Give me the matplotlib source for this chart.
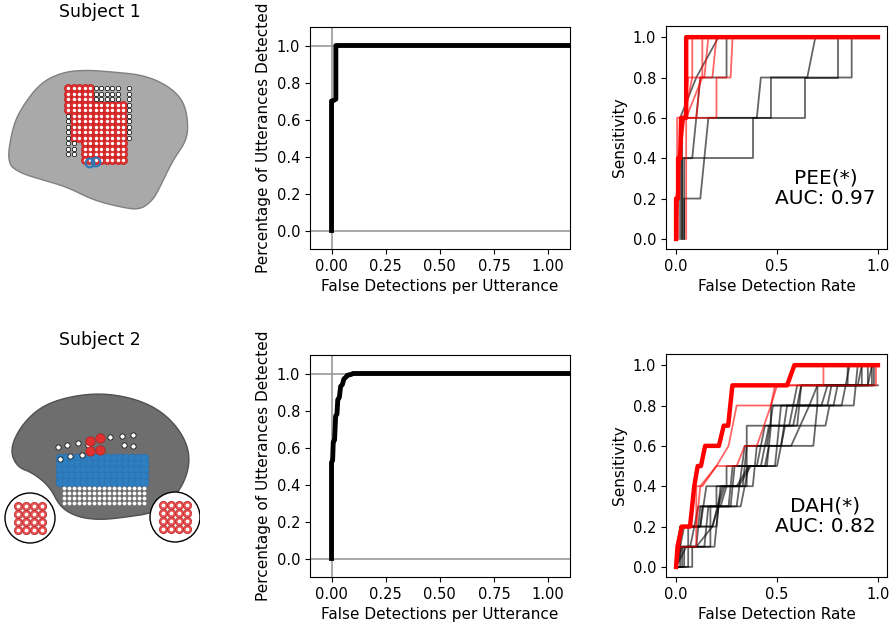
import matplotlib
matplotlib.use('Agg')
import matplotlib.pyplot as plt
import numpy as np
from matplotlib.patches import Polygon, Circle

# detection curves (false detections per utterance vs fraction detected)
det1_x = [0.0, 0.0, 0.005, 0.02, 0.02, 1.1]
det1_y = [0.0, 0.7, 0.7, 0.71, 1.0, 1.0]
det2_x = [0.0, 0.0, 0.005, 0.008, 0.014, 0.019, 0.025, 0.029, 0.036, 0.042, 0.05, 0.057, 0.066, 0.073, 0.09, 0.10, 1.1]
det2_y = [0.0, 0.52, 0.53, 0.63, 0.64, 0.77, 0.78, 0.86, 0.87, 0.93, 0.94, 0.97, 0.98, 0.99, 0.995, 1.0, 1.0]

# ROC curves, subject 1 (PEE)
roc1_best = ([0, 0.0, 0.01, 0.01, 0.02, 0.025, 0.05, 0.05, 1.0],
             [0, 0.2, 0.2, 0.4, 0.4, 0.6, 0.6, 1.0, 1.0])
roc1_red = [
    ([0, 0.0, 0.02, 0.04, 0.08, 0.08, 1.0], [0, 0.2, 0.4, 0.6, 0.8, 1.0, 1.0]),
    ([0.01, 0.01, 0.04, 0.2, 0.2, 0.27, 0.28, 1.0], [0, 0.4, 0.6, 0.6, 0.8, 0.8, 1.0, 1.0]),
    ([0.0, 0.02, 0.06, 0.14, 0.16, 1.0], [0, 0.4, 0.8, 0.8, 1.0, 1.0]),
    ([0.005, 0.005, 0.1, 0.12, 0.18, 0.2, 1.0], [0, 0.6, 0.6, 0.8, 0.8, 1.0, 1.0]),
    ([0.05, 0.05, 0.13, 0.13, 1.0], [0, 0.6, 0.8, 1.0, 1.0]),
]
roc1_black = [
    ([0.03, 0.03, 0.38, 0.38, 0.64, 0.64, 0.80, 0.80, 1.0], [0, 0.4, 0.4, 0.6, 0.6, 0.8, 0.8, 1.0, 1.0]),
    ([0.04, 0.04, 0.12, 0.16, 0.47, 0.47, 0.87, 0.87, 1.0], [0, 0.2, 0.2, 0.6, 0.6, 0.8, 0.8, 1.0, 1.0]),
    ([0.03, 0.03, 0.40, 0.42, 0.65, 0.69, 1.0], [0, 0.6, 0.6, 0.8, 0.8, 1.0, 1.0]),
    ([0.02, 0.02, 0.10, 0.21, 1.0], [0, 0.6, 0.8, 1.0, 1.0]),
    ([0.04, 0.04, 0.08, 0.12, 0.25, 0.25, 1.0], [0, 0.4, 0.4, 0.8, 0.8, 1.0, 1.0]),
]

# ROC curves, subject 2 (DAH)
roc2_best = ([0, 0.007, 0.028, 0.069, 0.09, 0.107, 0.123, 0.144, 0.212, 0.236, 0.258, 0.279, 0.55, 0.586, 1.0],
             [0, 0.1, 0.2, 0.2, 0.4, 0.5, 0.5, 0.6, 0.6, 0.7, 0.7, 0.9, 0.9, 1.0, 1.0])
roc2_red = [
    ([0, 0.02, 0.10, 0.10, 0.13, 0.20, 0.30, 0.34, 0.40, 0.47, 0.50, 0.99, 0.99],
     [0, 0.1, 0.1, 0.4, 0.4, 0.5, 0.5, 0.6, 0.6, 0.8, 0.9, 0.9, 1.0]),
    ([0, 0.03, 0.10, 0.12, 0.20, 0.26, 0.28, 0.30, 0.47, 0.49, 0.73, 0.73, 1.0],
     [0, 0.2, 0.2, 0.4, 0.5, 0.6, 0.7, 0.8, 0.8, 0.9, 0.9, 1.0, 1.0]),
]
roc2_black = [
    ([0, 0.04, 0.04, 0.10, 0.12, 0.20, 0.20, 0.35, 0.35, 0.47, 0.47, 0.75, 0.77, 0.92, 0.92, 1.0],
     [0, 0, 0.1, 0.1, 0.3, 0.3, 0.4, 0.4, 0.7, 0.7, 0.8, 0.8, 0.9, 0.9, 1.0, 1.0]),
    ([0, 0.02, 0.02, 0.12, 0.15, 0.25, 0.25, 0.45, 0.47, 0.60, 0.62, 0.85, 0.85, 1.0],
     [0, 0, 0.2, 0.2, 0.4, 0.4, 0.5, 0.5, 0.7, 0.7, 0.9, 0.9, 1.0, 1.0]),
    ([0, 0.03, 0.03, 0.17, 0.17, 0.30, 0.34, 0.45, 0.48, 0.70, 0.70, 0.95, 0.97, 1.0],
     [0, 0, 0.1, 0.1, 0.3, 0.3, 0.6, 0.6, 0.8, 0.8, 0.9, 0.9, 1.0, 1.0]),
    ([0, 0.06, 0.06, 0.20, 0.22, 0.33, 0.35, 0.52, 0.55, 0.78, 0.80, 0.98, 0.98],
     [0, 0, 0.2, 0.2, 0.4, 0.4, 0.6, 0.6, 0.8, 0.8, 0.9, 0.9, 1.0]),
    ([0, 0.05, 0.10, 0.18, 0.24, 0.30, 0.36, 0.42, 0.46, 0.56, 0.60, 0.84, 0.86, 1.0],
     [0, 0.1, 0.1, 0.2, 0.4, 0.4, 0.5, 0.5, 0.7, 0.7, 0.9, 0.9, 1.0, 1.0]),
    ([0, 0.03, 0.14, 0.16, 0.26, 0.28, 0.40, 0.44, 0.58, 0.62, 0.90, 0.92, 1.0],
     [0, 0.1, 0.1, 0.3, 0.3, 0.5, 0.5, 0.7, 0.7, 0.9, 0.9, 1.0, 1.0]),
    ([0, 0.08, 0.08, 0.19, 0.21, 0.32, 0.36, 0.50, 0.54, 0.74, 0.76, 0.88, 0.90, 1.0],
     [0, 0, 0.1, 0.1, 0.3, 0.3, 0.5, 0.5, 0.7, 0.7, 0.8, 0.8, 1.0, 1.0]),
    ([0, 0.02, 0.12, 0.13, 0.22, 0.25, 0.38, 0.40, 0.57, 0.66, 0.70, 0.95, 0.95],
     [0, 0.2, 0.2, 0.3, 0.3, 0.4, 0.4, 0.6, 0.6, 0.8, 0.9, 0.9, 1.0]),
    ([0, 0.04, 0.09, 0.11, 0.27, 0.29, 0.44, 0.46, 0.68, 0.70, 0.82, 0.84, 1.0],
     [0, 0.2, 0.2, 0.3, 0.3, 0.5, 0.5, 0.6, 0.6, 0.8, 0.8, 0.9, 0.9]),
    ([0, 0.01, 0.07, 0.09, 0.18, 0.23, 0.31, 0.37, 0.49, 0.52, 0.72, 0.75, 0.97, 0.97],
     [0, 0.1, 0.1, 0.2, 0.2, 0.4, 0.4, 0.5, 0.5, 0.8, 0.8, 0.9, 0.9, 1.0]),
]

labels = ['PEE(*)\nAUC: 0.97', 'DAH(*)\nAUC: 0.82']
subjects = ['Subject 1', 'Subject 2']

# brain outlines in pixel coords (illustration only)
brain1 = [(7, 163), (12, 130), (20, 110), (40, 83), (63, 72), (87, 70), (113, 72), (143, 75),
          (167, 85), (183, 100), (188, 120), (187, 140), (173, 160), (160, 187), (153, 200),
          (140, 210), (120, 207), (93, 200), (67, 187), (43, 180), (20, 173)]
brain2 = [(10, 450), (20, 427), (40, 407), (67, 397), (100, 393), (133, 398), (160, 410),
          (180, 430), (190, 453), (187, 477), (173, 500), (153, 513), (127, 517), (100, 520),
          (77, 517), (60, 507), (50, 487), (33, 473), (17, 467)]


def smooth(pts, n=3):
    # chaikin corner cutting for a rounder outline
    p = np.array(pts, float)
    for _ in range(n):
        q = np.roll(p, -1, axis=0)
        p = np.vstack([0.75 * p + 0.25 * q, 0.25 * p + 0.75 * q]).reshape(2, -1, 2).transpose(1, 0, 2).reshape(-1, 2)
    return p


plt.rcParams['font.family'] = 'DejaVu Sans'
plt.rcParams['xtick.labelsize'] = 10.5
plt.rcParams['ytick.labelsize'] = 10.5
plt.rcParams['axes.labelsize'] = 11
fig = plt.figure(figsize=(8.93, 6.28), dpi=100)

# ---- left illustration panels
axl = fig.add_axes([0, 0, 200 / 893, 1])
axl.set_xlim(0, 200)
axl.set_ylim(628, 0)
axl.axis('off')

axl.add_patch(Polygon(smooth(brain1), closed=True, fc='#a9a9a9', ec='#808080', lw=1))
axl.add_patch(Polygon(smooth(brain2), closed=True, fc='#6e6e6e', ec='#505050', lw=1))

# subject 1 electrodes
gx, gy = np.meshgrid(np.arange(68, 130, 5.5), np.arange(88, 168, 5.5))
gx, gy = gx.ravel(), gy.ravel()
red1 = ((gx >= 68) & (gx <= 92) & (gy <= 160)) | ((gx >= 80) & (gx <= 124) & (gy >= 104) & (gy <= 164))
red1 &= ~((gx <= 73) & (gy > 112)) & ~((gx <= 80) & (gy > 140))
white1 = ~red1 & (((gx >= 95) & (gx <= 122) & (gy < 102)) | ((gx >= 126) & (gy < 140)) | ((gx <= 74) & (gy < 158)))
axl.scatter(gx[red1], gy[red1], s=34, c='#e03030', edgecolors='#c02020', lw=0.5, zorder=3)
axl.scatter(gx[red1], gy[red1], s=2, c='white', zorder=4)
axl.scatter(gx[white1], gy[white1], s=10, c='white', edgecolors='black', lw=0.5, zorder=3)
axl.scatter([90, 96], [163, 162], s=40, facecolors='none', edgecolors='#2a7ab8', lw=1.5, zorder=4)

# subject 2 electrodes
hx, hy = np.meshgrid(np.arange(60, 150, 6), np.arange(458, 486, 6))
axl.scatter(hx.ravel(), hy.ravel(), s=40, c='#2f7fc0', edgecolors='#2a70b0', lw=0.5, zorder=3)
sx, sy = np.meshgrid(np.arange(64, 146, 5), np.arange(488, 506, 5))
axl.scatter(sx.ravel(), sy.ravel(), s=3, c='white', zorder=3)
tx = np.array([58, 67, 78, 88, 110, 122, 133, 60, 70, 82, 124, 133])
ty = np.array([447, 445, 443, 445, 437, 436, 435, 459, 456, 455, 445, 446])
axl.scatter(tx, ty, s=14, c='white', edgecolors='black', lw=0.5, zorder=4)
axl.scatter([90, 100, 90, 100], [441, 438, 451, 450], s=45, c='#e03030', edgecolors='#b02020', lw=0.5, zorder=4)

for cx, cy in [(30, 518), (175, 517)]:
    axl.add_patch(Circle((cx, cy), 25, fc='white', ec='black', lw=1, zorder=5))
    ix, iy = np.meshgrid(np.arange(cx - 12, cx + 13, 8), np.arange(cy - 12, cy + 13, 8))
    axl.scatter(ix.ravel(), iy.ravel(), s=35, c='#e85050', edgecolors='#c03030', lw=0.6, zorder=6)
    axl.scatter(ix.ravel(), iy.ravel(), s=3, c='white', zorder=7)

axl.text(100, 12, subjects[0], ha='center', va='center', fontsize=12.5)
axl.text(100, 340, subjects[1], ha='center', va='center', fontsize=12.5)

# ---- detection curves
mid_pos = [[0.347, 0.6035, 0.291, 0.3535], [0.347, 0.0812, 0.291, 0.3535]]
for pos, (dx, dy) in zip(mid_pos, [(det1_x, det1_y), (det2_x, det2_y)]):
    ax = fig.add_axes(pos)
    ax.axvline(0, color='#999999', lw=1.2, zorder=1)
    ax.axhline(0, color='#999999', lw=1.2, zorder=1)
    ax.axhline(1, color='#999999', lw=1.2, zorder=1)
    ax.plot(dx, dy, color='black', lw=3.5, zorder=2)
    ax.set_xlim(-0.1, 1.1)
    ax.set_ylim(-0.1, 1.1)
    ax.set_xticks([0, 0.25, 0.5, 0.75, 1.0])
    ax.set_xticklabels(['0.00', '0.25', '0.50', '0.75', '1.00'])
    ax.set_yticks([0, 0.2, 0.4, 0.6, 0.8, 1.0])
    ax.set_xlabel('False Detections per Utterance')
    ax.set_ylabel('Percentage of Utterances Detected')

# ---- ROC curves
roc_pos = [[0.7458, 0.6035, 0.2475, 0.355], [0.7458, 0.0812, 0.2475, 0.355]]
rocs = [(roc1_black, roc1_red, roc1_best), (roc2_black, roc2_red, roc2_best)]
for pos, (blk, red, best), lab in zip(roc_pos, rocs, labels):
    ax = fig.add_axes(pos)
    for fx, ty_ in blk:
        ax.plot(fx, ty_, color='black', lw=1.3, alpha=0.6)
    for fx, ty_ in red:
        ax.plot(fx, ty_, color='red', lw=1.3, alpha=0.6)
    ax.plot(best[0], best[1], color='red', lw=3.2)
    ax.set_xlim(-0.05, 1.045)
    ax.set_ylim(-0.05, 1.055)
    ax.set_xticks([0, 0.5, 1.0])
    ax.set_yticks([0, 0.2, 0.4, 0.6, 0.8, 1.0])
    ax.set_xlabel('False Detection Rate')
    ax.set_ylabel('Sensitivity')
    ax.text(0.74, 0.25, lab, ha='center', va='center', fontsize=14.5, linespacing=1.1)

fig.savefig('out.png', dpi=100)
